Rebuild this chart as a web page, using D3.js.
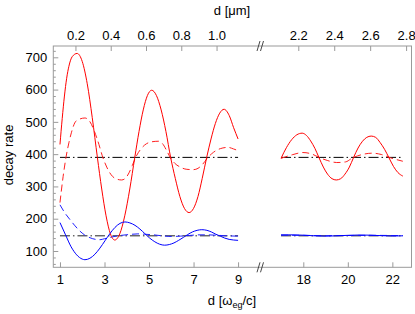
<!DOCTYPE html>
<html><head><meta charset="utf-8">
<script src="https://cdn.jsdelivr.net/npm/d3@7"></script>
<style>
body{margin:0;background:#fff;}
text{font-family:"Liberation Sans",Arial,Helvetica,sans-serif;}
</style></head>
<body><svg id="c" width="415" height="314"></svg>
<script>
// ---- data (d in units of omega_eg/c, decay rate) ----
const redSolidL = [[1.0,430],[1.1,510],[1.2,580],[1.3,635],[1.4,672],[1.55,702],[1.77,712],[2.0,687],[2.225,618],[2.45,513],[2.68,390],[2.875,292],[3.07,209],[3.265,153],[3.46,134],[3.685,153],[3.91,209],[4.135,292],[4.36,390],[4.55,470],[4.74,537],[4.93,582],[5.12,598],[5.33,582],[5.545,537],[5.76,470],[5.97,390],[6.18,325],[6.385,269],[6.59,232],[6.8,219],[7.0,232],[7.2,269],[7.39,325],[7.59,390],[7.785,447],[7.98,495],[8.175,527],[8.37,539],[8.6,520],[8.8,482],[9.0,447]];
const redSolidR = [[17.0,387],[17.24,420],[17.48,445],[17.71,460],[17.95,465],[18.14,458],[18.33,441],[18.52,418],[18.7,390],[18.9,360],[19.09,338],[19.29,324],[19.48,320],[19.68,324],[19.87,338],[20.07,360],[20.26,390],[20.46,419],[20.66,440],[20.85,452],[21.05,456],[21.25,452],[21.45,436],[21.65,415],[21.84,390],[22.05,362],[22.25,343],[22.47,332]];
const redDashL = [[1.0,250],[1.14,330],[1.28,394],[1.4,435],[1.51,466],[1.73,503],[2.12,512],[2.35,500],[2.55,470],[2.75,430],[2.9,395],[3.1,360],[3.3,336],[3.5,324],[3.77,320],[3.95,326],[4.1,342],[4.25,365],[4.4,390],[4.6,413],[4.8,428],[5.1,438],[5.42,440],[5.6,433],[5.8,410],[5.95,390],[6.15,372],[6.4,360],[6.7,353],[7.0,352],[7.2,356],[7.4,368],[7.65,390],[7.9,406],[8.2,417],[8.55,421],[8.8,416],[9.0,411]];
const redDashR = [[17.0,387],[17.5,398],[17.98,405],[18.4,400],[18.7,390],[19.1,380],[19.5,374],[19.9,376],[20.2,388],[20.6,398],[21.1,403],[21.5,399],[21.9,389],[22.47,378]];
const blueSolidL = [[1.0,188],[1.25,150],[1.5,113],[1.75,88],[2.0,75],[2.12,73],[2.345,77.5],[2.57,90],[2.795,109],[3.02,131.5],[3.245,154],[3.47,173],[3.695,185.5],[3.92,190],[4.14,187],[4.37,179.5],[4.59,168],[4.81,154],[5.03,140],[5.26,128.5],[5.48,121],[5.7,118],[5.91,120],[6.12,125],[6.33,133],[6.54,142],[6.74,151],[6.95,159],[7.16,164],[7.37,166],[7.6,164],[7.8,159],[8.0,152],[8.2,146],[8.4,140],[8.6,136],[8.8,134],[9.0,133]];
const blueSolidR = [[17.0,150],[17.5,150],[18.0,149],[18.5,147],[19.0,146],[19.5,147],[20.0,148.5],[20.5,149.5],[21.0,149],[21.5,147.5],[22.0,146.5],[22.47,147]];
const blueDashL = [[1.0,243],[1.2,220],[1.44,198],[1.65,180],[1.89,162],[2.1,150],[2.35,141],[2.6,136],[2.8,135],[3.0,138],[3.3,143],[3.7,148],[4.1,151],[4.5,153],[4.8,152],[5.2,150],[5.6,147],[6.0,145],[6.4,146],[6.8,148],[7.2,150],[7.6,150],[8.0,149],[8.5,147],[9.0,146]];
const blueDashR = [[17.0,149],[18.0,148.5],[19.0,147.5],[20.0,148],[21.0,148.5],[22.47,147.5]];
const blackDotL = [[1.0,390],[9.0,390]];
const blackDotR = [[17.0,390],[22.47,390]];
const lowDotL = [[1.0,147],[9.0,147]];
const lowDotR = [[17.0,147],[22.47,147]];

const bottomTicks = [1,3,5,7,9,18,20,22];
const topTicks = [0.2,0.4,0.6,0.8,1.0,2.2,2.4,2.6,2.8];
const yMajor = [100,200,300,400,500,600,700];
const yMinor = d3.range(60,735,20).filter(v=>v%100!==0);

// ---- layout ----
const L=53.3, R=411.5, T=46, B=267.3, BRK=261;
const svg = d3.select("#c");
const x = d3.scaleLinear().domain([0.7,10.03,16.1,22.86]).range([L,BRK,BRK,R]);
const xTop = d3.scaleLinear().domain([0.0744,1.252,1.9925,2.83]).range([L,BRK,BRK,R]);
const y = d3.scaleLinear().domain([49.5,735]).range([B,T]);

const line = d3.line().x(d=>x(d[0])).y(d=>y(d[1])).curve(d3.curveMonotoneX);

// frame
svg.append("rect").attr("x",L).attr("y",T).attr("width",R-L).attr("height",B-T)
  .attr("fill","none").attr("stroke","#9a9a9a").attr("stroke-width",1);

function styleAxis(g){
  g.select(".domain").remove();
  g.selectAll(".tick line").attr("stroke","#9a9a9a");
  g.selectAll(".tick text").attr("fill","#000").style("font-size","13px")
   .style("font-family","'Liberation Sans',Arial,sans-serif");
}
svg.append("g").attr("transform",`translate(${L},0)`)
  .call(d3.axisLeft(y).tickValues(yMinor).tickSize(-2.5).tickFormat(""))
  .call(styleAxis);
svg.append("g").attr("transform",`translate(${L},0)`)
  .call(d3.axisLeft(y).tickValues(yMajor).tickSize(-5).tickPadding(6).tickFormat(d3.format("d")))
  .call(styleAxis);
svg.append("g").attr("transform",`translate(0,${B})`)
  .call(d3.axisBottom(x).tickValues(bottomTicks).tickSize(-5).tickPadding(7).tickFormat(d3.format("d")))
  .call(styleAxis);
svg.append("g").attr("transform",`translate(0,${T})`)
  .call(d3.axisTop(xTop).tickValues(topTicks).tickSize(-5).tickPadding(6).tickFormat(d3.format(".1f")))
  .call(styleAxis);

// break marks
[T,B].forEach(yy=>{
  [0,3.5].forEach(o=>{
    svg.append("line").attr("x1",BRK-4+o).attr("y1",yy+5).attr("x2",BRK-1+o).attr("y2",yy-5)
      .attr("stroke","#333").attr("stroke-width",0.9);
  });
});

// series
const series = [
  [blackDotL,"#000","10,3,1.5,3"],[blackDotR,"#000","10,3,1.5,3"],
  [lowDotL,"#222","10,3,1.5,3"],[lowDotR,"#222","10,3,1.5,3"],
  [redDashL,"#ff2020","7,4"],[redDashR,"#ff2020","7,4"],
  [blueDashL,"#2020ff","7,4"],[blueDashR,"#2020ff","7,4"],
  [redSolidL,"#ff0000",null],[redSolidR,"#ff0000",null],
  [blueSolidL,"#0000ff",null],[blueSolidR,"#0000ff",null]
];
series.forEach(([data,col,dash])=>{
  const p = svg.append("path").attr("d",line(data)).attr("fill","none")
    .attr("stroke",col).attr("stroke-width",1);
  if(dash) p.attr("stroke-dasharray",dash);
});

// labels
svg.append("text").attr("x",232).attr("y",15).attr("text-anchor","middle").style("font-size","13px")
  .text("d [μm]");
const bl = svg.append("text").attr("x",232).attr("y",305).attr("text-anchor","middle").style("font-size","13px");
bl.append("tspan").text("d [ω");
bl.append("tspan").attr("dy",3).style("font-size","9px").text("eg");
bl.append("tspan").attr("dy",-3).text("/c]");
svg.append("text").attr("transform","translate(13,155) rotate(-90)").attr("text-anchor","middle")
  .style("font-size","13px").text("decay rate");
</script></body></html>
